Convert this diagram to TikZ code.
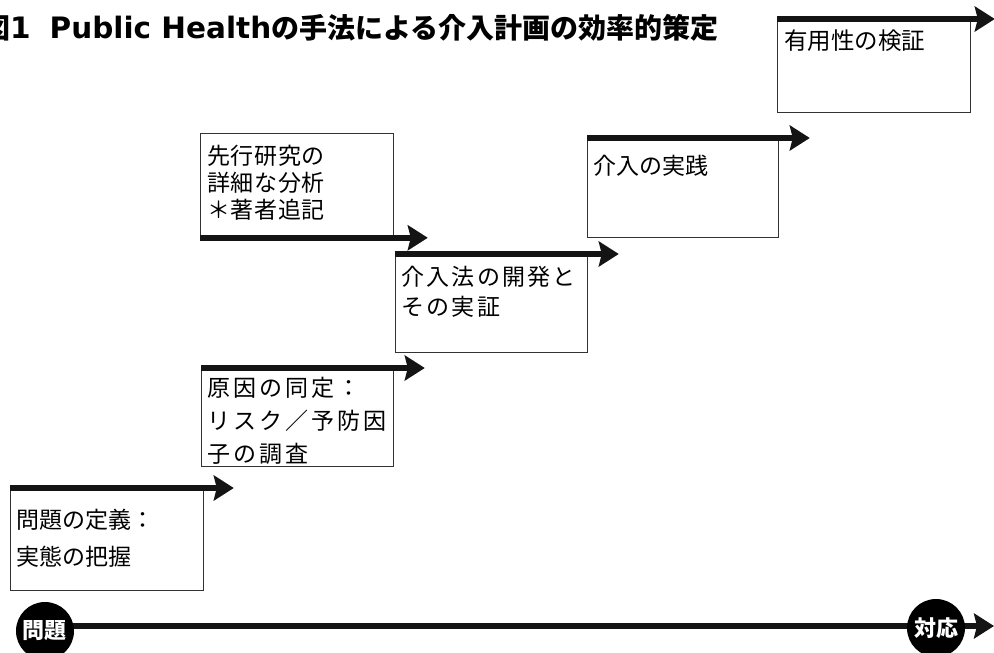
\documentclass[tikz,border=0pt]{standalone}
\usepackage{fontspec}
\newfontfamily\cjk{Noto Sans CJK JP}
\newfontfamily\latb{DejaVu Sans}
\usetikzlibrary{arrows.meta,calc}
\tikzset{
  stepbox/.style={draw=black!80, line width=0.8pt, anchor=north west, inner sep=0pt},
  boxtext/.style={anchor=north west, inner sep=0pt, align=left, text=black},
  bar/.style={line width=6.5pt, draw=black!92, -{Stealth[length=20pt,width=25pt,inset=3pt]}},
  endcirc/.style={circle, fill=black, minimum size=58pt, inner sep=0pt, text=white, font=\cjk\bfseries\fontsize{22}{22}\selectfont},
}
\begin{document}
\begin{tikzpicture}[x=1pt,y=-1pt]
\useasboundingbox (0,0) rectangle (994,653);
% title
\node[anchor=base west, inner sep=0pt] (title) at (-18,38)
  {{\cjk\bfseries\fontsize{28}{28}\selectfont 図}{\latb\bfseries\fontsize{29.5}{29.5}\selectfont 1\hspace{19pt}Public Health}{\cjk\bfseries\fontsize{28}{28}\selectfont の手法による介入計画の効率的策定}};

% boxes
\node[stepbox, minimum width=193pt, minimum height=102pt] (b1) at (10,488) {};
\node[stepbox, minimum width=192pt, minimum height=98pt] (b2) at (201,368) {};
\node[stepbox, minimum width=193pt, minimum height=104pt] (b3) at (200,133) {};
\node[stepbox, minimum width=192pt, minimum height=98pt] (b4) at (395,254) {};
\node[stepbox, minimum width=191pt, minimum height=99pt] (b5) at (587,138) {};
\node[stepbox, minimum width=193pt, minimum height=93pt] (b6) at (777,19) {};

% box texts
\node[boxtext, font=\cjk\fontsize{23}{37}\selectfont] (t1) at (16,508.5) {問題の定義：\\実態の把握};
\node[boxtext, font=\cjk\fontsize{23}{33}\selectfont\addfontfeature{LetterSpace=13}] (t2) at (207,377) {原因の同定：\\リスク／予防因\\子の調査};
\node[boxtext, font=\cjk\fontsize{23}{27}\selectfont\addfontfeature{LetterSpace=3}] (t3) at (207,144.5) {先行研究の\\詳細な分析\\＊著者追記};
\node[boxtext, font=\cjk\fontsize{23}{30}\selectfont\addfontfeature{LetterSpace=10}] (t4) at (401,265.5) {介入法の開発と\\その実証};
\node[boxtext, font=\cjk\fontsize{23}{30}\selectfont] (t5) at (593,155) {介入の実践};
\node[boxtext, font=\cjk\fontsize{23.5}{30}\selectfont] (t6) at (784,30) {有用性の検証};

% arrow bars
\coordinate (e1) at ($(b1.north east)+(30,0)$);
\coordinate (e2) at ($(b2.north east)+(31,0)$);
\coordinate (e3) at ($(b3.south east)+(34,0)$);
\coordinate (e4) at ($(b4.north east)+(31,0)$);
\coordinate (e5) at ($(b5.north east)+(31,0)$);
\coordinate (e6) at ($(b6.north east)+(24,0)$);
\draw[bar] (b1.north west) -- (e1);
\draw[bar] (b2.north west) -- (e2);
\draw[bar] (b3.south west) -- (e3);
\draw[bar] (b4.north west) -- (e4);
\draw[bar] (b5.north west) -- (e5);
\draw[bar] (b6.north west) -- (e6);

% bottom axis
\coordinate (c1pos) at (45,631);
\coordinate (axisend) at (994,626);
\draw[line width=6.5pt, draw=black!92] (20,626) -- (936,626);
\draw[bar] (936,626) -- (axisend);
\node[endcirc] (c1) at (c1pos) {問題};
\node[endcirc] (c2) at (936,628) {対応};
\end{tikzpicture}
\end{document}
